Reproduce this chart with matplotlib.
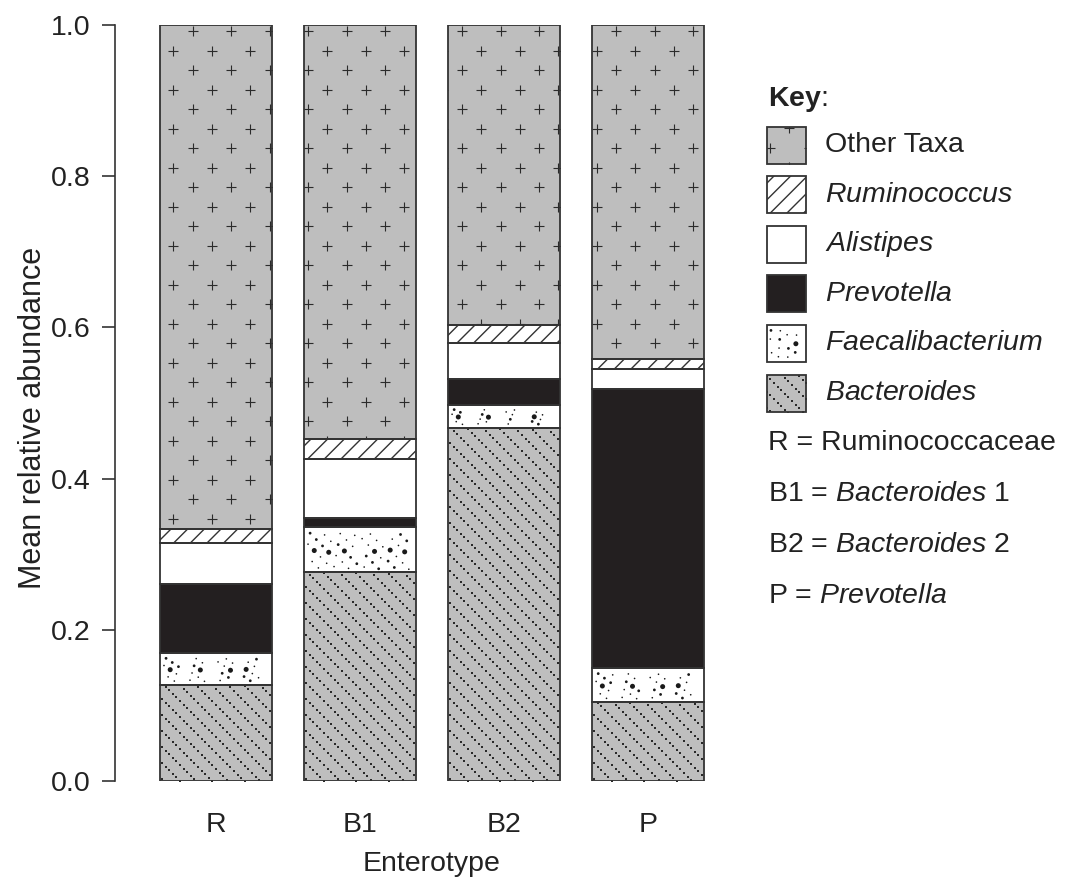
import numpy as np
import matplotlib
matplotlib.use("Agg")
import matplotlib.pyplot as plt
from matplotlib.patches import Rectangle

plt.rcParams["font.family"] = "Liberation Sans"
plt.rcParams["mathtext.fontset"] = "custom"
plt.rcParams["mathtext.rm"] = "Liberation Sans"
plt.rcParams["mathtext.it"] = "Liberation Sans:italic"
plt.rcParams["mathtext.bf"] = "Liberation Sans:bold"
plt.rcParams["hatch.linewidth"] = 1.0

# data, stacked bottom -> top
enterotypes = ["R", "B1", "B2", "P"]
bacteroides = [0.127, 0.276, 0.467, 0.104]
faecalibacterium = [0.042, 0.060, 0.030, 0.045]
prevotella = [0.092, 0.012, 0.035, 0.370]
alistipes = [0.054, 0.078, 0.047, 0.026]
ruminococcus = [0.018, 0.026, 0.024, 0.013]
other_taxa = [0.667, 0.548, 0.397, 0.442]

GREY = "#bebebe"
BLACK = "#231f20"
EDGE = "#333333"
TXT = "#222222"
FS = 20.5

W, H = 1066, 889
fig = plt.figure(figsize=(W / 100, H / 100), dpi=100)
ax = fig.add_axes([115 / W, 1 - 781 / H, 634 / W, 756 / H])


def scatter_in(a, patch, pts, **kw):
    bb = patch.get_extents()
    pts = np.array(pts)
    ok = ((pts[:, 0] > bb.x0 - 6) & (pts[:, 0] < bb.x1 + 6) &
          (pts[:, 1] > bb.y0 - 6) & (pts[:, 1] < bb.y1 + 6))
    pts = a.transData.inverted().transform(pts[ok])
    sizes = kw.pop("s")
    if np.ndim(sizes):
        sizes = np.asarray(sizes)[ok]
    coll = a.scatter(pts[:, 0], pts[:, 1], s=sizes, zorder=3, **kw)
    coll.set_clip_path(patch)


def plus_texture(a, patch):
    bb = patch.get_extents()
    step, row = 38.5, 19.5
    pts = []
    for j in range(int(np.floor(bb.y0 / row)) - 1, int(np.ceil(bb.y1 / row)) + 2):
        off = step / 2 * (j % 2)
        for i in range(int(np.floor((bb.x0 - off) / step)) - 1, int(np.ceil((bb.x1 - off) / step)) + 2):
            pts.append((i * step + off, j * row))
    scatter_in(a, patch, pts, marker="+", s=52, linewidths=0.8, color="#2b2b2b")


def diag_dots(a, patch):
    bb = patch.get_extents()
    sp, d = 16.0, 3.6
    pts = []
    xs = np.arange(np.floor(bb.x0 / d) - 1, np.ceil(bb.x1 / d) + 1) * d
    for c in np.arange(np.floor((bb.x0 + bb.y0) / sp) - 1, np.ceil((bb.x1 + bb.y1) / sp) + 1) * sp:
        ys = c - xs
        pts += list(zip(xs, ys))
    scatter_in(a, patch, pts, marker="s", s=0.9, linewidths=0, color="#2a2a2a")


def speckle(a, patch):
    bb = patch.get_extents()
    n = int(bb.width * bb.height / 110)
    g = 1.32471795724474602596
    idx = np.arange(1, n + 1)
    fx = (0.5 + idx / g) % 1
    fy = (0.5 + idx / g ** 2) % 1
    px = bb.x0 + 3 + fx * (bb.width - 6)
    py = bb.y0 + 3 + fy * (bb.height - 6)
    sizes = np.where(idx % 7 == 0, 13.0, np.where(idx % 3 == 0, 4.0, 1.4))
    scatter_in(a, patch, np.column_stack([px, py]), marker="o", s=sizes,
               linewidths=0, color="#1a1a1a")


x = np.arange(len(enterotypes))
width = 0.778
layers = [
    (bacteroides, dict(color=GREY), diag_dots),
    (faecalibacterium, dict(color="white"), speckle),
    (prevotella, dict(color=BLACK), None),
    (alistipes, dict(color="white"), None),
    (ruminococcus, dict(color="white", hatch="//", edgecolor=EDGE), None),
    (other_taxa, dict(color=GREY), plus_texture),
]

bottom = np.zeros(len(x))
containers = []
for vals, style, tex in layers:
    style = dict(style)
    fc = style.pop("color")
    bars = ax.bar(x, vals, width, bottom=bottom, facecolor=fc, linewidth=0, zorder=2, **style)
    containers.append((bars, tex))
    ax.bar(x, vals, width, bottom=bottom, fill=False, edgecolor=EDGE, linewidth=1.3, zorder=5)
    bottom = bottom + np.array(vals)

ax.set_xlim(-0.701, 3.70)
ax.set_ylim(0, 1)
for bars, tex in containers:
    if tex is None:
        continue
    for p in bars.patches:
        tex(ax, p)

for s in ["top", "right", "bottom"]:
    ax.spines[s].set_visible(False)
ax.spines["left"].set_color(EDGE)
ax.spines["left"].set_linewidth(1.2)
ticks = np.arange(0, 1.01, 0.2)
ax.set_yticks(ticks)
ax.set_yticklabels([f"{v:.1f}" for v in ticks])
ax.tick_params(axis="y", length=9.5, width=1.2, color=EDGE, pad=8, labelsize=FS, labelcolor=TXT)
ax.set_xticks(x)
ax.set_xticklabels(enterotypes)
ax.tick_params(axis="x", length=0, pad=22, labelsize=FS, labelcolor=TXT)
ax.set_xlabel("Enterotype", fontsize=FS, color=TXT, labelpad=10)
ax.set_ylabel("Mean relative abundance", fontsize=22, color=TXT)
ax.yaxis.set_label_coords(-0.105, 0.48)

# key
kax = fig.add_axes([0, 0, 1, 1])
kax.set_xlim(0, W)
kax.set_ylim(H, 0)
kax.axis("off")

kax.text(768, 100, r"$\mathbf{Key}$:", fontsize=FS, va="center", ha="left", color=TXT)
key_labels = ["Other Taxa", r"$\mathit{Ruminococcus}$", r"$\mathit{Alistipes}$",
              r"$\mathit{Prevotella}$", r"$\mathit{Faecalibacterium}$", r"$\mathit{Bacteroides}$"]
key_styles = [layers[5], layers[4], layers[3], layers[2], layers[1], layers[0]]
for k, (lab, (_, style, tex)) in enumerate(zip(key_labels, key_styles)):
    cy = 145 + k * 49.6
    style = dict(style)
    fc = style.pop("color")
    r = Rectangle((767, cy - 18.5), 39, 37, facecolor=fc, linewidth=0,
                  hatch=style.get("hatch"), edgecolor=EDGE, zorder=2)
    kax.add_patch(r)
    if tex is not None:
        tex(kax, r)
    kax.add_patch(Rectangle((767, cy - 18.5), 39, 37, fill=False, edgecolor=EDGE,
                            linewidth=1.3, zorder=5))
    kax.text(825, cy, lab, fontsize=FS, va="center", ha="left", color=TXT)

abbrev = ["R = Ruminococcaceae", r"B1 = $\mathit{Bacteroides}$ 1",
          r"B2 = $\mathit{Bacteroides}$ 2", r"P = $\mathit{Prevotella}$"]
for k, lab in enumerate(abbrev):
    kax.text(768, 443 + k * 51, lab, fontsize=FS, va="center", ha="left", color=TXT)

fig.savefig("out.png", dpi=100)
